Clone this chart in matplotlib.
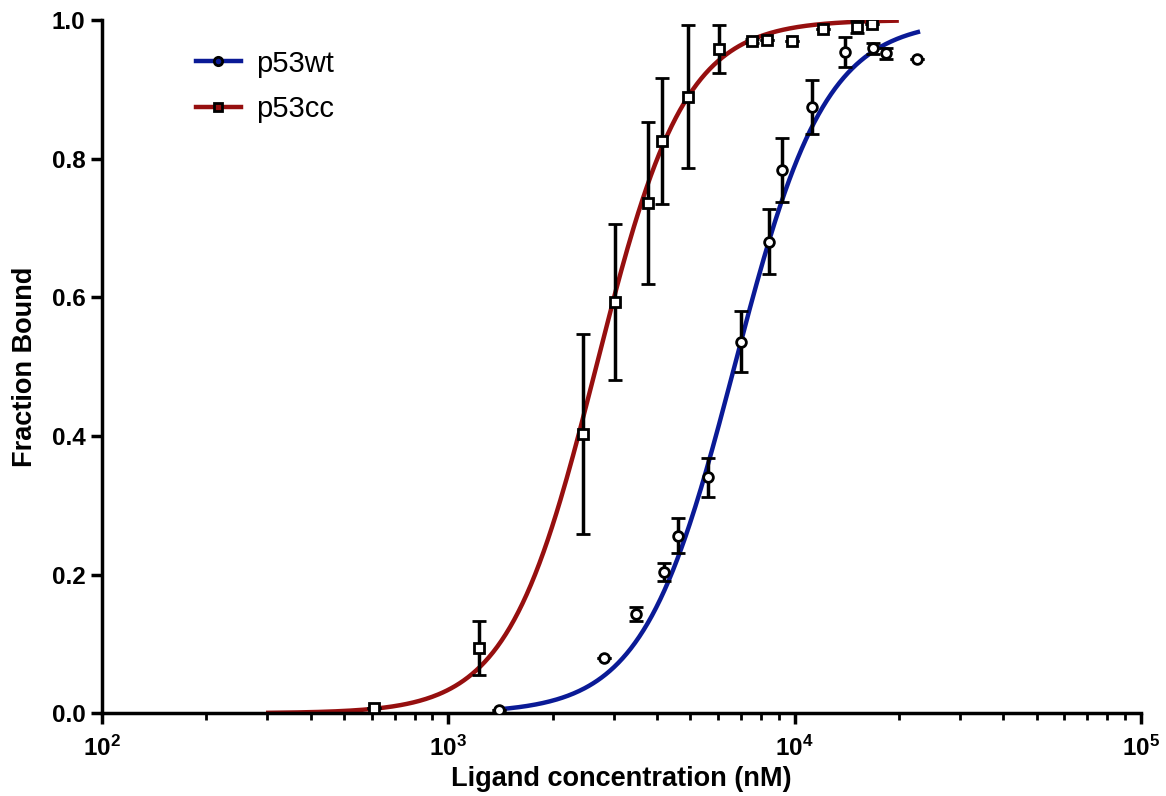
import numpy as np
import matplotlib
matplotlib.use("Agg")
import matplotlib.pyplot as plt
from matplotlib.lines import Line2D
from matplotlib.ticker import LogLocator, NullFormatter

plt.rcParams['font.family'] = ['Liberation Sans', 'DejaVu Sans']

# p53wt measurements (nM, fraction bound, SD)
wt_conc = [1403, 2806, 3485, 4207, 4605, 5610, 7015, 8435, 9190, 11245, 14010, 16830, 18400, 22540]
wt_frac = [0.004, 0.080, 0.143, 0.204, 0.256, 0.340, 0.536, 0.680, 0.784, 0.874, 0.954, 0.959, 0.952, 0.944]
wt_err = [0.0, 0.0, 0.010, 0.013, 0.025, 0.028, 0.044, 0.047, 0.046, 0.039, 0.022, 0.008, 0.008, 0.0]

# p53cc measurements
cc_conc = [611, 1223, 2443, 3020, 3767, 4136, 4920, 6040, 7550, 8320, 9820, 12100, 15140, 16690]
cc_frac = [0.008, 0.094, 0.403, 0.593, 0.736, 0.825, 0.889, 0.958, 0.970, 0.971, 0.970, 0.987, 0.990, 0.994]
cc_err = [0.0, 0.039, 0.144, 0.112, 0.117, 0.091, 0.103, 0.035, 0.003, 0.0, 0.0, 0.0, 0.009, 0.0]

# Hill fit parameters (EC50 in nM, Hill slope) and fitted range
wt_fit = (6700.0, 3.3, 1403, 22700)
cc_fit = (2673.0, 3.41, 302, 19700)

BLUE = "#0a1a96"
RED = "#960f0f"


def hill(x, ec50, n):
    return x ** n / (ec50 ** n + x ** n)


fig = plt.figure(figsize=(11.66, 7.96), dpi=100)
ax = fig.add_axes([0.0875, 0.104, 0.891, 0.871])

handles = []
for fit, color, label, marker in [(wt_fit, BLUE, "p53wt", "o"), (cc_fit, RED, "p53cc", "s")]:
    ec50, n, x0, x1 = fit
    xs = np.logspace(np.log10(x0), np.log10(x1), 300)
    ax.plot(xs, hill(xs, ec50, n), color=color, lw=3.2, zorder=2)
    handles.append(Line2D([], [], color=color, lw=3.2, marker=marker, ms=6,
                          mfc=color, mec="black", mew=2, label=label))

ax.errorbar(wt_conc, wt_frac, yerr=wt_err, fmt="o", ms=7, mfc="white", mec="black",
            mew=2, ecolor="black", elinewidth=2.5, capsize=5, capthick=2.5, zorder=3)
ax.errorbar(cc_conc, cc_frac, yerr=cc_err, fmt="s", ms=6.5, mfc="white", mec="black",
            mew=2, ecolor="black", elinewidth=2.5, capsize=5, capthick=2.5, zorder=3)

ax.set_xscale("log")
ax.set_xlim(100, 1e5)
ax.set_ylim(0, 1.0)
ax.set_yticks([0.0, 0.2, 0.4, 0.6, 0.8, 1.0])
ax.set_yticklabels(["0.0", "0.2", "0.4", "0.6", "0.8", "1.0"])
ax.xaxis.set_major_locator(LogLocator(base=10, numticks=10))
ax.xaxis.set_minor_locator(LogLocator(base=10, subs=np.arange(2, 10), numticks=10))
ax.xaxis.set_minor_formatter(NullFormatter())

for side in ["top", "right"]:
    ax.spines[side].set_visible(False)
for side in ["left", "bottom"]:
    ax.spines[side].set_linewidth(2.5)

ax.tick_params(axis="both", which="major", length=8, width=2.5, direction="out",
               labelsize=17.5, pad=4)
ax.tick_params(axis="x", which="major", pad=8)
ax.tick_params(axis="x", which="minor", length=5, width=2, direction="out")
for lab in ax.get_yticklabels() + ax.get_xticklabels():
    lab.set_fontweight("bold")

ax.set_xlabel("Ligand concentration (nM)", fontsize=19.5, fontweight="bold", labelpad=4)
ax.set_ylabel("Fraction Bound", fontsize=19.5, fontweight="bold", labelpad=10)

ax.legend(handles=handles, loc="upper left", bbox_to_anchor=(0.065, 0.995), frameon=False,
          fontsize=21, handlelength=1.55, handletextpad=0.5, labelspacing=0.6)

fig.savefig("out.png", dpi=100)
